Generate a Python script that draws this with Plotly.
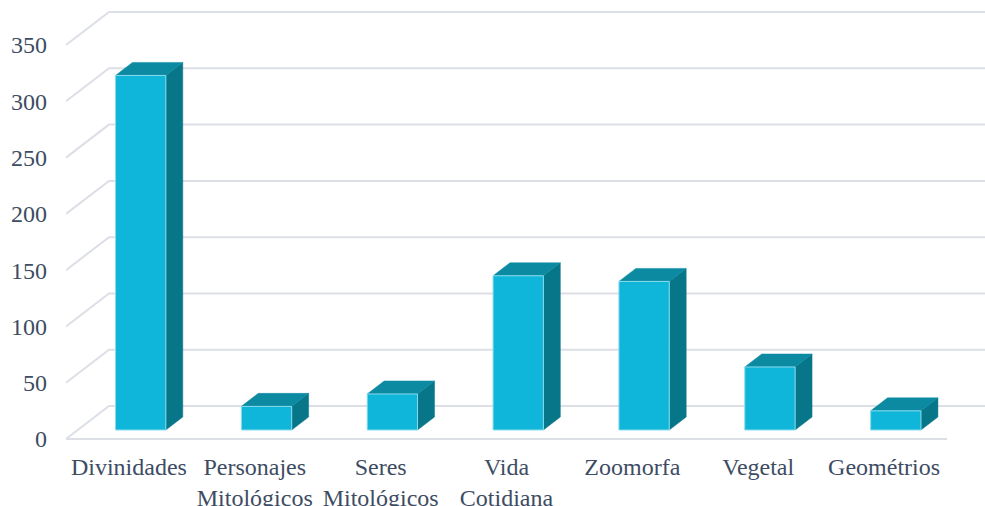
import plotly.graph_objects as go

# Data
categories = ["Divinidades", "Personajes<br>Mitológicos", "Seres<br>Mitológicos",
              "Vida<br>Cotidiana", "Zoomorfa", "Vegetal", "Geométrios"]
values = [315, 21, 32, 137, 132, 56, 17]
y_ticks = [0, 50, 100, 150, 200, 250, 300, 350]

# Oblique projection of the depth axis (in data units)
DX = 0.3416   # horizontal shift per unit of depth (category units)
DY = 29.3     # vertical shift per unit of depth (value units)
D0, D1 = 0.273, 0.667   # bar front / back depth
HALF_W = 0.2            # half bar width (category units)

FRONT = "#10B6DA"
TOP = "#0B8AA2"
SIDE = "#087689"
EDGE = "#8ADCEC"
GRID = "#DCDFE6"
TEXT = "#3E4C63"

n = len(categories)
x_left, x_right = -0.5, n - 0.5
x_max = x_right + 0.302

fig = go.Figure()

# Walls: diagonals on the left side wall, horizontal lines on the back wall
for v in y_ticks:
    fig.add_trace(go.Scatter(
        x=[x_left, x_left + DX, x_max], y=[v, v + DY, v + DY],
        mode="lines", line=dict(color=GRID, width=2),
        hoverinfo="skip", showlegend=False))
# Front edge of the floor
fig.add_trace(go.Scatter(
    x=[x_left, x_right], y=[0, 0], mode="lines",
    line=dict(color=GRID, width=2), hoverinfo="skip", showlegend=False))

# 3-D looking columns
for i, v in enumerate(values):
    xl, xr = i - HALF_W, i + HALF_W
    fx0, fx1 = xl + D0 * DX, xr + D0 * DX
    bx0, bx1 = xl + D1 * DX, xr + D1 * DX
    fy0, fy1 = D0 * DY, v + D0 * DY
    by0, by1 = D1 * DY, v + D1 * DY
    # side face
    fig.add_trace(go.Scatter(
        x=[fx1, bx1, bx1, fx1, fx1], y=[fy0, by0, by1, fy1, fy0],
        mode="lines", fill="toself", fillcolor=SIDE,
        line=dict(color=SIDE, width=0.5), hoverinfo="skip", showlegend=False))
    # top face
    fig.add_trace(go.Scatter(
        x=[fx0, fx1, bx1, bx0, fx0], y=[fy1, fy1, by1, by1, fy1],
        mode="lines", fill="toself", fillcolor=TOP,
        line=dict(color=TOP, width=0.5), hoverinfo="skip", showlegend=False))
    # front face
    fig.add_trace(go.Scatter(
        x=[fx0, fx1, fx1, fx0, fx0], y=[fy0, fy0, fy1, fy1, fy0],
        mode="lines", fill="toself", fillcolor=FRONT,
        line=dict(color=EDGE, width=1), hoverinfo="text",
        text=f"{categories[i].replace('<br>', ' ')}: {v}", showlegend=False))

fig.update_layout(
    width=985, height=506,
    margin=dict(l=66, r=0, t=8, b=61),
    paper_bgcolor="white", plot_bgcolor="white",
    font=dict(family="Liberation Serif", size=24, color=TEXT),
    xaxis=dict(range=[x_left, x_max], tickmode="array",
               tickvals=list(range(n)), ticktext=categories,
               showgrid=False, zeroline=False, showline=False,
               ticks="", ticklabelstandoff=5, automargin=False,
               fixedrange=True),
    yaxis=dict(range=[-5.33, 382.9], tickmode="array",
               tickvals=y_ticks, ticktext=[str(t) for t in y_ticks],
               showgrid=False, zeroline=False, showline=False,
               ticks="", ticklabelstandoff=18, automargin=False,
               fixedrange=True),
)

fig.write_html("out.html")
